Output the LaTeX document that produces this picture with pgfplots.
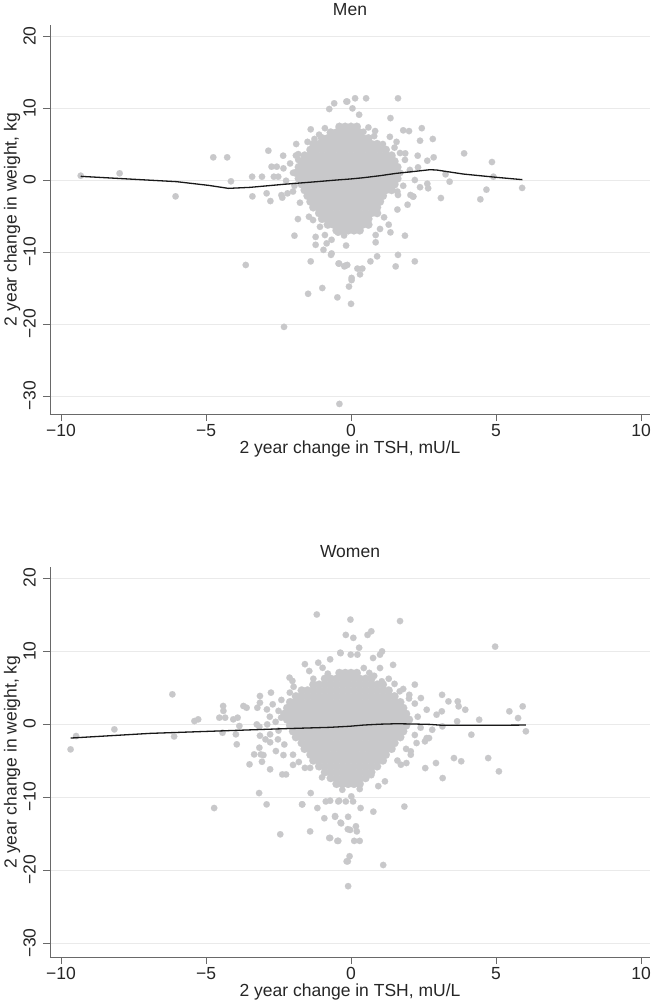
\documentclass[border=0pt]{standalone}
\usepackage{fontspec}
\setmainfont{Liberation Sans}
\usepackage{pgfplots}
\pgfplotsset{compat=1.18}
\definecolor{ptgray}{RGB}{200,200,202}
\definecolor{gridgray}{RGB}{234,234,234}
\definecolor{axgray}{RGB}{105,105,105}
\pgfplotsset{
  panel/.style={
    scale only axis, width=600pt,
    xmin=-10.38, xmax=10.31,
    clip marker paths=true,
    axis x line*=bottom, axis y line*=left,
    axis line style={axgray, line width=0.9pt},
    tick align=outside, major tick length=7pt,
    tick style={axgray, line width=0.9pt},
    xtick={-10,-5,0,5,10}, xticklabels={−10,−5,0,5,10},
    ytick={-30,-20,-10,0,10,20}, yticklabels={−30,−20,−10,0,10,20},
    minor tick num=0,
    ymajorgrids, grid style={gridgray, line width=0.9pt},
    tick label style={font=\fontsize{17.5}{17.5}\selectfont, text=black!85},
    xticklabel style={inner sep=3pt},
    yticklabel style={rotate=90, anchor=south, inner sep=7pt},
    label style={font=\fontsize{17.5}{17.5}\selectfont, text=black!85},
    title style={font=\fontsize{17.5}{17.5}\selectfont, text=black!85, at={(axis description cs:0.5,1)}, anchor=center, yshift=9pt},
    xlabel={2 year change in TSH, mU/L},
    ylabel={2 year change in weight, kg},
    ylabel style={at={(axis description cs:-0.0633,0.5)}, anchor=center},
  },
  dots/.style={only marks, color=ptgray, mark=*, mark size=3.25pt, mark options={solid, ptgray, line width=0.1pt}},
  coredots/.style={only marks, color=ptgray, mark=*, mark size=4.1pt, mark options={solid, ptgray, line width=0.1pt}},
  fit/.style={color=black!90, solid, line width=1.3pt, mark=none},
}
\begin{document}
\begin{tikzpicture}
\path[use as bounding box] (0,0) rectangle (652pt,-1002pt);
% ---------------- Men ----------------
\begin{axis}[panel, at={(50pt,-414pt)}, anchor=south west,
  height=389pt, ymin=-32.5, ymax=21.53, title={Men},
  xlabel style={at={(axis description cs:0.5,-0.09)}, anchor=center}]
\addplot[coredots] coordinates {
(-0.4,7.4)(-0.2,7.4)(0,7.4)(0.2,7.4)
(-0.7,6.6)(-0.5,6.6)(-0.3,6.6)(-0.1,6.6)(0.1,6.6)(0.3,6.6)
(-1.0,5.8)(-0.8,5.8)(-0.6,5.8)(-0.4,5.8)(-0.2,5.8)(0,5.8)(0.2,5.8)(0.4,5.8)(0.6,5.8)
(-1.3,5)(-1.1,5)(-0.9,5)(-0.7,5)(-0.5,5)(-0.3,5)(-0.1,5)(0.1,5)(0.3,5)(0.5,5)(0.7,5)(0.9,5)
(-1.4,4.2)(-1.2,4.2)(-1.0,4.2)(-0.8,4.2)(-0.6,4.2)(-0.4,4.2)(-0.2,4.2)(0,4.2)(0.2,4.2)(0.4,4.2)(0.6,4.2)(0.8,4.2)(1.0,4.2)(1.2,4.2)
(-1.6,3.4)(-1.4,3.4)(-1.2,3.4)(-1.0,3.4)(-0.8,3.4)(-0.6,3.4)(-0.4,3.4)(-0.2,3.4)(0,3.4)(0.2,3.4)(0.4,3.4)(0.6,3.4)(0.8,3.4)(1.0,3.4)(1.2,3.4)(1.4,3.4)
(-1.7,2.6)(-1.5,2.6)(-1.3,2.6)(-1.1,2.6)(-0.9,2.6)(-0.7,2.6)(-0.5,2.6)(-0.3,2.6)(-0.1,2.6)(0.1,2.6)(0.3,2.6)(0.5,2.6)(0.7,2.6)(0.9,2.6)(1.1,2.6)(1.3,2.6)(1.5,2.6)
(-1.8,1.8)(-1.6,1.8)(-1.4,1.8)(-1.2,1.8)(-1.0,1.8)(-0.8,1.8)(-0.6,1.8)(-0.4,1.8)(-0.2,1.8)(0,1.8)(0.2,1.8)(0.4,1.8)(0.6,1.8)(0.8,1.8)(1.0,1.8)(1.2,1.8)(1.4,1.8)(1.6,1.8)
(-1.9,1)(-1.7,1)(-1.5,1)(-1.3,1)(-1.1,1)(-0.9,1)(-0.7,1)(-0.5,1)(-0.3,1)(-0.1,1)(0.1,1)(0.3,1)(0.5,1)(0.7,1)(0.9,1)(1.1,1)(1.3,1)(1.5,1)
(-1.8,0.2)(-1.6,0.2)(-1.4,0.2)(-1.2,0.2)(-1.0,0.2)(-0.8,0.2)(-0.6,0.2)(-0.4,0.2)(-0.2,0.2)(0,0.2)(0.2,0.2)(0.4,0.2)(0.6,0.2)(0.8,0.2)(1.0,0.2)(1.2,0.2)(1.4,0.2)(1.6,0.2)
(-1.7,-0.6)(-1.5,-0.6)(-1.3,-0.6)(-1.1,-0.6)(-0.9,-0.6)(-0.7,-0.6)(-0.5,-0.6)(-0.3,-0.6)(-0.1,-0.6)(0.1,-0.6)(0.3,-0.6)(0.5,-0.6)(0.7,-0.6)(0.9,-0.6)(1.1,-0.6)(1.3,-0.6)(1.5,-0.6)
(-1.6,-1.4)(-1.4,-1.4)(-1.2,-1.4)(-1.0,-1.4)(-0.8,-1.4)(-0.6,-1.4)(-0.4,-1.4)(-0.2,-1.4)(0,-1.4)(0.2,-1.4)(0.4,-1.4)(0.6,-1.4)(0.8,-1.4)(1.0,-1.4)(1.2,-1.4)(1.4,-1.4)
(-1.5,-2.2)(-1.3,-2.2)(-1.1,-2.2)(-0.9,-2.2)(-0.7,-2.2)(-0.5,-2.2)(-0.3,-2.2)(-0.1,-2.2)(0.1,-2.2)(0.3,-2.2)(0.5,-2.2)(0.7,-2.2)(0.9,-2.2)(1.1,-2.2)
(-1.4,-3)(-1.2,-3)(-1.0,-3)(-0.8,-3)(-0.6,-3)(-0.4,-3)(-0.2,-3)(0,-3)(0.2,-3)(0.4,-3)(0.6,-3)(0.8,-3)(1.0,-3)
(-1.3,-3.8)(-1.1,-3.8)(-0.9,-3.8)(-0.7,-3.8)(-0.5,-3.8)(-0.3,-3.8)(-0.1,-3.8)(0.1,-3.8)(0.3,-3.8)(0.5,-3.8)(0.7,-3.8)(0.9,-3.8)
(-1.1,-4.6)(-0.9,-4.6)(-0.7,-4.6)(-0.5,-4.6)(-0.3,-4.6)(-0.1,-4.6)(0.1,-4.6)(0.3,-4.6)(0.5,-4.6)(0.7,-4.6)(0.9,-4.6)
(-1.0,-5.4)(-0.8,-5.4)(-0.6,-5.4)(-0.4,-5.4)(-0.2,-5.4)(0,-5.4)(0.2,-5.4)(0.4,-5.4)(0.6,-5.4)
(-0.8,-6.2)(-0.6,-6.2)(-0.4,-6.2)(-0.2,-6.2)(0,-6.2)(0.2,-6.2)(0.4,-6.2)(0.6,-6.2)
(-0.5,-7)(-0.3,-7)(-0.1,-7)(0.1,-7)(0.3,-7)
};
\addplot[dots] coordinates {
(-9.32,0.6)(-7.98,0.93)(-6.05,-2.27)(-4.75,3.15)(-4.27,3.15)(-4.14,-0.18)(-3.63,-11.8)(-3.41,0.46)(-3.07,0.46)(-3.40,-2.27)
(-2.85,4.07)(-2.91,-1.85)(-2.78,-2.92)(-2.74,1.85)(-2.56,1.85)(-2.66,0.46)(-2.51,0.46)(-2.34,3.38)(-2.33,1.62)(-2.40,-2.1)
(-2.37,-2.45)(-2.19,-1.85)(-2.24,-0.1)(-1.95,-7.73)(-1.89,5.0)(-1.82,3.6)(-1.82,2.8)(-1.76,-3.15)(-1.83,-5.42)(-1.39,7.04)
(-1.26,5.7)(-1.39,-11.3)(-1.48,-15.8)(-0.99,-15.0)(-0.47,-16.3)(-0.75,9.86)(-0.58,10.65)(-0.16,10.9)(-1.22,-7.9)(-1.22,-9.0)
(-0.95,-9.7)(-0.69,-10.4)(-0.43,-11.6)(-0.23,-12.0)(-0.44,-7.27)(-2.31,-20.4)(-0.40,-31.1)(-0.07,-14.8)(0.0,-17.2)(0.02,-13.9)
(1.62,11.35)(0.52,11.35)(0.14,11.35)(-0.13,10.9)(0.05,9.95)(0.28,9.07)(1.36,8.6)(2.44,7.2)(1.8,6.9)(2.0,6.8)
(2.82,5.7)(2.38,5.46)(3.9,3.7)(4.86,2.5)(4.91,0.46)(4.67,-1.34)(4.46,-2.68)(5.9,-1.1)(2.85,3.15)(2.63,2.68)
(2.3,3.38)(1.87,3.7)(2.31,1.76)(3.26,0.79)(3.4,-0.23)(3.1,-2.5)(2.63,-0.51)(2.66,-1.15)(2.05,-2.08)(2.15,-2.3)
(1.95,-3.43)(1.62,-2.08)(1.14,-5.18)(1.36,-7.27)(1.86,-7.73)(0.85,-7.64)(0.85,-8.65)(1.62,-10.4)(1.54,-12.0)(2.2,-11.3)
(0.9,-10.6)(0.67,-11.3)(0.22,-12.3)(0.39,-12.3)(0.31,-13.1)(0.02,-13.6)(-0.41,-11.6)(-0.2,-11.9)(-0.13,-11.8)(-0.17,-9.1)
(-0.45,-7.3)(-0.24,-7.7)(-0.67,-10.2)(1.34,6.0)(1.57,5.3)(0.83,6.8)(0.43,6.7)
(-1.45,-5.1)(-1.31,-5.56)(-1.07,-6.5)(-0.9,-7.64)(-0.84,-8.8)(-0.67,-8.3)
(1.69,3.75)(1.86,2.8)(2.03,1.4)(2.2,0)(2.38,-1)(2.14,-2.3)(1.6,-4.1)(1.3,-6.2)(1.0,-6.8)(1.5,4.5)
(1.7,1.0)(1.8,-0.8)(1.6,-1.6)(-2.0,1.0)(-2.1,2.3)(-1.95,-0.8)(-2.0,-1.6)(-1.9,3.4)(-1.5,5.3)(-1.1,6.3)
(0.8,6.1)(1.1,5.0)(0.6,7.3)(-0.9,7.2)
};
\addplot[fit] coordinates {
(-9.32,0.51)(-6.01,-0.23)(-4.9,-0.75)(-4.23,-1.16)(-3.48,-1.02)(-2.33,-0.6)(-1.18,-0.23)(-0.5,0.0)(-0.03,0.14)
(0.43,0.32)(1.0,0.6)(1.57,0.93)(2.2,1.2)(2.72,1.43)(2.95,1.39)(3.87,0.83)(5.02,0.37)(5.91,0.05)
};
\end{axis}
% ---------------- Women ----------------
\begin{axis}[panel, at={(50pt,-957pt)}, anchor=south west,
  height=390pt, ymin=-31.9, ymax=21.5, title={Women},
  xlabel style={at={(axis description cs:0.5,-0.0897)}, anchor=center}]
\addplot[coredots] coordinates {
(-0.4,7)(-0.2,7)(0,7)(0.2,7)
(-0.9,6.2)(-0.7,6.2)(-0.5,6.2)(-0.3,6.2)(-0.1,6.2)(0.1,6.2)(0.3,6.2)(0.5,6.2)(0.7,6.2)
(-1.3,5.4)(-1.1,5.4)(-0.9,5.4)(-0.7,5.4)(-0.5,5.4)(-0.3,5.4)(-0.1,5.4)(0.1,5.4)(0.3,5.4)(0.5,5.4)(0.7,5.4)(0.9,5.4)(1.1,5.4)
(-1.7,4.6)(-1.5,4.6)(-1.3,4.6)(-1.1,4.6)(-0.9,4.6)(-0.7,4.6)(-0.5,4.6)(-0.3,4.6)(-0.1,4.6)(0.1,4.6)(0.3,4.6)(0.5,4.6)(0.7,4.6)(0.9,4.6)(1.1,4.6)(1.3,4.6)
(-1.9,3.8)(-1.7,3.8)(-1.5,3.8)(-1.3,3.8)(-1.1,3.8)(-0.9,3.8)(-0.7,3.8)(-0.5,3.8)(-0.3,3.8)(-0.1,3.8)(0.1,3.8)(0.3,3.8)(0.5,3.8)(0.7,3.8)(0.9,3.8)(1.1,3.8)(1.3,3.8)(1.5,3.8)
(-2.1,3)(-1.9,3)(-1.7,3)(-1.5,3)(-1.3,3)(-1.1,3)(-0.9,3)(-0.7,3)(-0.5,3)(-0.3,3)(-0.1,3)(0.1,3)(0.3,3)(0.5,3)(0.7,3)(0.9,3)(1.1,3)(1.3,3)(1.5,3)(1.7,3)
(-2.2,2.2)(-2.0,2.2)(-1.8,2.2)(-1.6,2.2)(-1.4,2.2)(-1.2,2.2)(-1.0,2.2)(-0.8,2.2)(-0.6,2.2)(-0.4,2.2)(-0.2,2.2)(0,2.2)(0.2,2.2)(0.4,2.2)(0.6,2.2)(0.8,2.2)(1.0,2.2)(1.2,2.2)(1.4,2.2)(1.6,2.2)(1.8,2.2)
(-2.3,1.4)(-2.1,1.4)(-1.9,1.4)(-1.7,1.4)(-1.5,1.4)(-1.3,1.4)(-1.1,1.4)(-0.9,1.4)(-0.7,1.4)(-0.5,1.4)(-0.3,1.4)(-0.1,1.4)(0.1,1.4)(0.3,1.4)(0.5,1.4)(0.7,1.4)(0.9,1.4)(1.1,1.4)(1.3,1.4)(1.5,1.4)(1.7,1.4)(1.9,1.4)
(-2.2,0.6)(-2.0,0.6)(-1.8,0.6)(-1.6,0.6)(-1.4,0.6)(-1.2,0.6)(-1.0,0.6)(-0.8,0.6)(-0.6,0.6)(-0.4,0.6)(-0.2,0.6)(0,0.6)(0.2,0.6)(0.4,0.6)(0.6,0.6)(0.8,0.6)(1.0,0.6)(1.2,0.6)(1.4,0.6)(1.6,0.6)(1.8,0.6)(2.0,0.6)
(-2.1,-0.2)(-1.9,-0.2)(-1.7,-0.2)(-1.5,-0.2)(-1.3,-0.2)(-1.1,-0.2)(-0.9,-0.2)(-0.7,-0.2)(-0.5,-0.2)(-0.3,-0.2)(-0.1,-0.2)(0.1,-0.2)(0.3,-0.2)(0.5,-0.2)(0.7,-0.2)(0.9,-0.2)(1.1,-0.2)(1.3,-0.2)(1.5,-0.2)(1.7,-0.2)(1.9,-0.2)
(-2.0,-1)(-1.8,-1)(-1.6,-1)(-1.4,-1)(-1.2,-1)(-1.0,-1)(-0.8,-1)(-0.6,-1)(-0.4,-1)(-0.2,-1)(0,-1)(0.2,-1)(0.4,-1)(0.6,-1)(0.8,-1)(1.0,-1)(1.2,-1)(1.4,-1)(1.6,-1)(1.8,-1)
(-1.9,-1.8)(-1.7,-1.8)(-1.5,-1.8)(-1.3,-1.8)(-1.1,-1.8)(-0.9,-1.8)(-0.7,-1.8)(-0.5,-1.8)(-0.3,-1.8)(-0.1,-1.8)(0.1,-1.8)(0.3,-1.8)(0.5,-1.8)(0.7,-1.8)(0.9,-1.8)(1.1,-1.8)(1.3,-1.8)(1.5,-1.8)(1.7,-1.8)
(-1.7,-2.6)(-1.5,-2.6)(-1.3,-2.6)(-1.1,-2.6)(-0.9,-2.6)(-0.7,-2.6)(-0.5,-2.6)(-0.3,-2.6)(-0.1,-2.6)(0.1,-2.6)(0.3,-2.6)(0.5,-2.6)(0.7,-2.6)(0.9,-2.6)(1.1,-2.6)(1.3,-2.6)(1.5,-2.6)
(-1.6,-3.4)(-1.4,-3.4)(-1.2,-3.4)(-1.0,-3.4)(-0.8,-3.4)(-0.6,-3.4)(-0.4,-3.4)(-0.2,-3.4)(0,-3.4)(0.2,-3.4)(0.4,-3.4)(0.6,-3.4)(0.8,-3.4)(1.0,-3.4)(1.2,-3.4)(1.4,-3.4)
(-1.4,-4.2)(-1.2,-4.2)(-1.0,-4.2)(-0.8,-4.2)(-0.6,-4.2)(-0.4,-4.2)(-0.2,-4.2)(0,-4.2)(0.2,-4.2)(0.4,-4.2)(0.6,-4.2)(0.8,-4.2)(1.0,-4.2)(1.2,-4.2)
(-1.3,-5)(-1.1,-5)(-0.9,-5)(-0.7,-5)(-0.5,-5)(-0.3,-5)(-0.1,-5)(0.1,-5)(0.3,-5)(0.5,-5)(0.7,-5)(0.9,-5)(1.1,-5)
(-1.1,-5.8)(-0.9,-5.8)(-0.7,-5.8)(-0.5,-5.8)(-0.3,-5.8)(-0.1,-5.8)(0.1,-5.8)(0.3,-5.8)(0.5,-5.8)(0.7,-5.8)(0.9,-5.8)
(-0.9,-6.6)(-0.7,-6.6)(-0.5,-6.6)(-0.3,-6.6)(-0.1,-6.6)(0.1,-6.6)(0.3,-6.6)(0.5,-6.6)(0.7,-6.6)
(-0.7,-7.4)(-0.5,-7.4)(-0.3,-7.4)(-0.1,-7.4)(0.1,-7.4)(0.3,-7.4)(0.5,-7.4)
(-0.5,-8.2)(-0.3,-8.2)(-0.1,-8.2)(0.1,-8.2)(0.3,-8.2)
};
\addplot[dots] coordinates {
(-9.67,-3.47)(-9.48,-1.64)(-8.16,-0.73)(-6.16,4.07)(-6.1,-1.7)(-5.4,0.41)(-5.27,0.64)(-4.72,-11.5)(-4.41,2.47)(-4.4,1.8)
(-4.54,0.87)(-4.34,0.87)(-4.43,-1.19)(-4.06,0.64)(-3.91,0.87)(-3.85,-0.27)(-3.97,-1.41)(-3.94,-2.78)(-3.71,2.47)(-3.6,2.23)
(-3.5,-5.52)(-3.34,-4.16)(-3.11,-4.16)(-3.02,-4.25)(-3.23,2.23)(-3.14,3.84)(-3.14,2.92)(-3.17,-9.45)(-3.25,-0.05)(-3.16,-0.37)
(-3.07,-5.16)(-3.16,-3.24)(-2.91,-11.0)(-2.79,-6.2)(-2.76,4.3)(-2.7,2.7)(-2.89,-0.05)(-2.79,-1.41)(-3.14,-1.6)(-2.95,-2.1)
(-2.79,-2.5)(-2.44,-15.1)(-2.41,0.87)(-2.28,0.87)(-2.59,-3.7)(-2.33,-4.25)(-2.37,-6.9)(-2.24,-6.9)(-2.52,-2.1)(-2.12,6.35)
(-2.02,5.9)(-1.98,5.1)(-2.11,4.3)(-1.68,-11.0)(-1.41,-14.7)(-1.39,-9.45)(-1.59,8.2)(-1.44,7.26)(-1.13,8.4)(-0.98,7.7)
(-0.72,8.86)(-0.37,9.77)(-0.18,12.2)(-1.16,-11.5)(-0.92,-12.9)(-0.55,-12.6)(-0.34,-13.6)(-0.75,-15.6)(-0.44,-16.0)(-0.11,-18.8)
(-0.87,-10.6)(-0.72,-10.5)(-0.41,-10.5)(-0.11,-14.4)(-1.41,-6.0)(-1.59,-6.0)
(-0.02,14.3)(1.69,14.1)(0.08,11.8)(0.57,12.2)(0.7,12.7)(4.97,10.6)(0.28,10.45)(0.22,9.5)(-0.01,9.5)(-0.36,9.7)
(1.07,9.95)(1.0,9.5)(0.76,9.04)(1.45,8.1)(1.0,7.67)(0.44,7.67)(0.63,7.0)(1.06,5.85)(2.2,5.4)(1.68,4.48)
(2.01,4.0)(2.41,3.56)(3.14,4.0)(3.36,3.1)(3.68,3.1)(3.71,2.42)(3.94,1.96)(3.13,1.74)(2.61,1.96)(2.95,1.28)
(4.42,0.59)(5.46,1.74)(5.92,2.42)(5.76,0.82)(6.03,-1.0)(3.66,0.37)(4.15,-1.46)(3.15,-0.32)(2.8,-0.78)(2.61,-1.92)
(2.69,-1.92)(2.55,-2.37)(2.26,-2.6)(3.55,-4.66)(3.8,-5.1)(4.73,-4.66)(5.1,-6.48)(3.16,-7.4)(2.93,-5.34)(2.56,-6.03)
(2.06,-3.74)(2.06,-4.2)(1.72,-5.57)(1.91,-5.34)(1.17,-7.85)(0.94,-8.5)(1.84,-11.3)(0.77,-12.0)(0.33,-11.5)(-0.1,-12.7)
(-0.36,-13.5)(-0.55,-12.7)(-0.03,-14.5)(0.17,-14.0)(0.2,-14.7)(0.11,-16.0)(0.3,-16.0)(-0.72,-15.6)(-0.47,-16.0)(-0.05,-18.1)
(-0.15,-18.8)(1.11,-19.3)(-0.1,-22.2)(-0.44,-10.6)(-0.18,-10.6)(0.07,-10.6)(0.01,-9.9)(-1.18,15.0)(-1.69,-11.0)
(2.2,2.8)(2.3,1.0)(2.4,-0.5)(2.2,-1.5)(1.9,-3.4)(1.6,-5.0)(2.0,3.5)(1.8,4.8)(1.5,5.5)(-2.4,3.3)
(-2.5,1.8)(-2.6,0.3)(-2.5,-0.9)(-2.3,-2.8)(-2.0,-4.2)(-1.8,-5.2)(-1.7,4.6)(-1.3,6.2)(-0.8,6.9)(0.8,6.6)
(1.3,6.2)(-1.0,-7.3)(0.7,-7.0)(-0.3,-9.0)(0.3,-8.9)(-2.8,1.0)(-2.9,2.0)(-2.0,-5.6)
};
\addplot[fit] coordinates {
(-9.67,-1.92)(-6.93,-1.28)(-4.63,-0.96)(-2.33,-0.64)(-0.72,-0.45)(-0.03,-0.3)(0.43,-0.14)(1.0,-0.02)(1.57,0.04)
(2.2,0.0)(2.72,-0.05)(3.18,-0.18)(4.45,-0.18)(6.03,-0.14)
};
\end{axis}
\end{tikzpicture}
\end{document}
